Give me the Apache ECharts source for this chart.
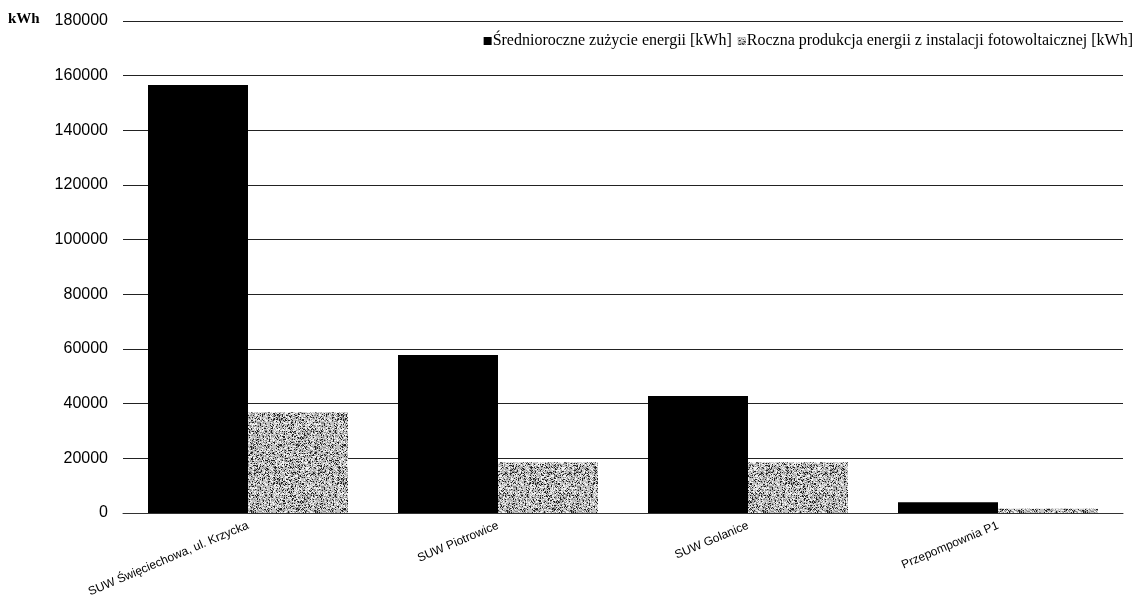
<!DOCTYPE html>
<html>
<head>
<meta charset="utf-8">
<script src="https://cdn.jsdelivr.net/npm/echarts@6/dist/echarts.min.js"></script>
<style>
html,body{margin:0;padding:0;background:#fff;}
#chart{width:1140px;height:605px;}
</style>
</head>
<body>
<div id="chart"></div>
<script>
const categories = ['SUW Święciechowa, ul. Krzycka', 'SUW Piotrowice', 'SUW Golanice', 'Przepompownia P1'];
const consumption = [156600, 57800, 42800, 3900];
const production = [36900, 18600, 18600, 1600];
const seriesNames = ['Średnioroczne zużycie energii [kWh]', 'Roczna produkcja energii z instalacji fotowoltaicznej [kWh]'];
const yTicks = [0, 20000, 40000, 60000, 80000, 100000, 120000, 140000, 160000, 180000];

// stipple texture for the grey bars (style only)
function makeTexture() {
  const c = document.createElement('canvas');
  c.width = 64; c.height = 64;
  const ctx = c.getContext('2d');
  ctx.fillStyle = '#c4c4c4';
  ctx.fillRect(0, 0, 64, 64);
  let s = 12345;
  function rnd() { s = (s * 1103515245 + 12345) & 0x7fffffff; return s / 0x7fffffff; }
  for (let y = 0; y < 64; y++) {
    for (let x = 0; x < 64; x++) {
      const r = rnd();
      if (r < 0.16) { ctx.fillStyle = '#222'; ctx.fillRect(x, y, 1, 1); }
      else if (r < 0.36) { ctx.fillStyle = '#8a8a8a'; ctx.fillRect(x, y, 1, 1); }
      else if (r < 0.6) { ctx.fillStyle = '#f2f2f2'; ctx.fillRect(x, y, 1, 1); }
    }
  }
  return c;
}
const tex = makeTexture();

const chart = echarts.init(document.getElementById('chart'), null, {renderer: 'canvas'});
chart.setOption({
  animation: false,
  backgroundColor: '#fff',
  grid: {left: 123, right: 17, top: 21, bottom: 92, containLabel: false},
  legend: {
    right: 2, top: 28,
    itemWidth: 8, itemHeight: 8, itemGap: 6,
    icon: 'rect',
    textStyle: {fontFamily: 'Liberation Serif', fontSize: 16, color: '#000', padding: [0, 0, 0, -4]},
    data: seriesNames
  },
  graphic: [{
    type: 'text', left: 8, top: 12,
    style: {text: 'kWh', font: 'bold 15px "Liberation Serif"', fill: '#000'}
  }],
  xAxis: {
    type: 'category',
    data: categories,
    axisLine: {show: true, lineStyle: {color: '#333', width: 1}},
    axisTick: {show: false},
    axisLabel: {
      interval: 0, rotate: 23, margin: 12,
      fontFamily: 'Liberation Sans Narrow, Liberation Sans', fontSize: 12, color: '#000'
    }
  },
  yAxis: {
    type: 'value',
    min: 0, max: 180000, interval: 20000,
    axisLine: {show: false},
    axisTick: {show: false},
    splitLine: {lineStyle: {color: '#222', width: 1}},
    axisLabel: {
      margin: 15,
      fontFamily: 'Liberation Sans', fontSize: 16, color: '#000',
      formatter: function (v) { return yTicks.indexOf(v) >= 0 ? String(v) : ''; }
    }
  },
  series: [
    {
      name: seriesNames[0], type: 'bar', data: consumption,
      barGap: '0%', barCategoryGap: '20%',
      itemStyle: {color: '#000'}
    },
    {
      name: seriesNames[1], type: 'bar', data: production,
      barGap: '0%', barCategoryGap: '20%',
      itemStyle: {color: {image: tex, repeat: 'repeat'}}
    }
  ]
});
</script>
</body>
</html>
